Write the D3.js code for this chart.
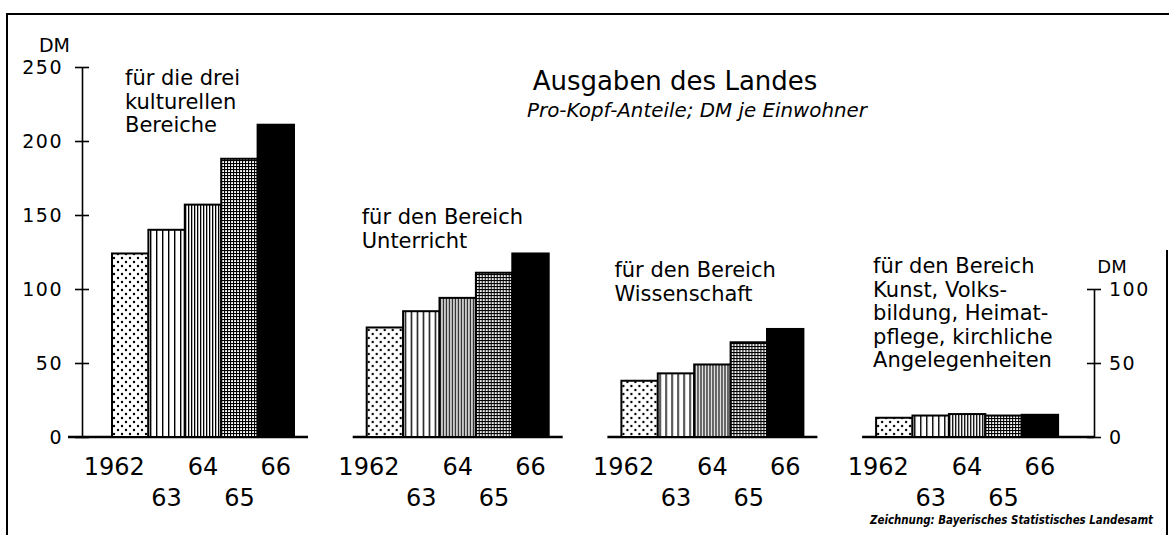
<!DOCTYPE html>
<html>
<head>
<meta charset="utf-8">
<script src="https://cdn.jsdelivr.net/npm/d3@7"></script>
<style>
  body { margin: 0; background: #fff; }
  svg { display: block; }
  text { font-family: "DejaVu Sans", sans-serif; fill: #000; }
</style>
</head>
<body>
<script>
// Data (DM per inhabitant)
const years = ["1962", "1963", "1964", "1965", "1966"];
const yearTicks = ["1962", "63", "64", "65", "66"];
const kulturGesamt = [124, 140, 157, 188, 211];
const unterricht = [74, 85, 94, 111, 124];
const wissenschaft = [38, 43, 49, 64, 73];
const kunst = [13, 14.5, 15.5, 14.5, 15];
const groupLabels = [
  ["für die drei", "kulturellen", "Bereiche"],
  ["für den Bereich", "Unterricht"],
  ["für den Bereich", "Wissenschaft"],
  ["für den Bereich", "Kunst, Volks-", "bildung, Heimat-", "pflege, kirchliche", "Angelegenheiten"]
];
const leftTicks = [0, 50, 100, 150, 200, 250];
const rightTicks = [0, 50, 100];

const series = [kulturGesamt, unterricht, wissenschaft, kunst];

// Canvas
const width = 1169, height = 535;
const svg = d3.select("body").append("svg")
  .attr("width", width)
  .attr("height", height);

// Patterns for the years
const defs = svg.append("defs");
let p = defs.append("pattern").attr("id", "pat0").attr("patternUnits", "userSpaceOnUse")
  .attr("width", 8).attr("height", 8);
p.append("rect").attr("width", 8).attr("height", 8).attr("fill", "#fff");
p.append("circle").attr("cx", 2).attr("cy", 2).attr("r", 1.2).attr("fill", "#000");
p.append("circle").attr("cx", 6).attr("cy", 6).attr("r", 1.2).attr("fill", "#000");

p = defs.append("pattern").attr("id", "pat1").attr("patternUnits", "userSpaceOnUse")
  .attr("width", 6).attr("height", 6);
p.append("rect").attr("width", 6).attr("height", 6).attr("fill", "#fff");
p.append("rect").attr("x", 2).attr("width", 1.4).attr("height", 6).attr("fill", "#000");

p = defs.append("pattern").attr("id", "pat2").attr("patternUnits", "userSpaceOnUse")
  .attr("width", 3).attr("height", 6);
p.append("rect").attr("width", 3).attr("height", 6).attr("fill", "#fff");
p.append("rect").attr("x", 1).attr("width", 1.3).attr("height", 6).attr("fill", "#000");

p = defs.append("pattern").attr("id", "pat3").attr("patternUnits", "userSpaceOnUse")
  .attr("width", 3).attr("height", 3);
p.append("rect").attr("width", 3).attr("height", 3).attr("fill", "#fff");
p.append("rect").attr("x", 1).attr("width", 1.1).attr("height", 3).attr("fill", "#000");
p.append("rect").attr("y", 1).attr("width", 3).attr("height", 1.1).attr("fill", "#000");

const fills = ["url(#pat0)", "url(#pat1)", "url(#pat2)", "url(#pat3)", "#000"];

// Scales
const y = d3.scaleLinear().domain([0, 250]).range([437, 67]);
const yRight = d3.scaleLinear().domain([0, 100]).range([y(0), y(100)]);
const gx = d3.scaleBand().domain(d3.range(series.length)).range([112, 112 + 4 * 254.7]);
const bx = d3.scaleBand().domain(years).range([0, 182]);
const groupW = bx.range()[1];

const axisLeftX = 82, axisRightX = 1094;

// Frame
svg.append("path")
  .attr("d", `M7,535 V14 H1169`)
  .attr("fill", "none").attr("stroke", "#000").attr("stroke-width", 2);
svg.append("line")
  .attr("x1", 1167).attr("x2", 1167).attr("y1", 250).attr("y2", 535)
  .attr("stroke", "#000").attr("stroke-width", 2);

// Left axis
const la = svg.append("g")
  .attr("transform", `translate(${axisLeftX},0)`)
  .call(d3.axisLeft(y).tickValues(leftTicks).tickSize(7).tickSizeOuter(0).tickPadding(12));
la.select(".domain").attr("stroke-width", 1.6);
la.selectAll(".tick line").attr("x2", 7).attr("x1", -7).attr("stroke-width", 1.6);
la.selectAll(".tick text")
  .style("font-family", "DejaVu Sans").style("font-size", "19px")
  .style("letter-spacing", "1.5px").attr("dy", "0.36em");
svg.append("text").attr("x", 70).attr("y", 52).attr("text-anchor", "end")
  .style("font-size", "19px").text("DM");

// Right axis (0 - 100)
const ra = svg.append("g")
  .attr("transform", `translate(${axisRightX},0)`)
  .call(d3.axisRight(yRight).tickValues(rightTicks).tickSize(7).tickSizeOuter(0).tickPadding(8));
ra.select(".domain").attr("stroke-width", 1.6);
ra.selectAll(".tick line").attr("x1", -7).attr("x2", 7).attr("stroke-width", 1.6);
ra.selectAll(".tick text")
  .style("font-family", "DejaVu Sans").style("font-size", "19px")
  .style("letter-spacing", "1.5px").attr("dy", "0.36em");
svg.append("text").attr("x", 1112).attr("y", 273).attr("text-anchor", "middle")
  .style("font-size", "18px").text("DM");

// Title
svg.append("text").attr("x", 675).attr("y", 90).attr("text-anchor", "middle")
  .style("font-size", "26px").text("Ausgaben des Landes");
svg.append("text").attr("x", 697).attr("y", 117).attr("text-anchor", "middle")
  .attr("textLength", 340).attr("lengthAdjust", "spacingAndGlyphs")
  .style("font-size", "19px").style("font-style", "italic")
  .text("Pro-Kopf-Anteile; DM je Einwohner");

// Group label placement (offset from group start, first baseline)
const labelPos = [[13, 85], [-5, 224], [-7, 277], [-3, 273]];

series.forEach((vals, gi) => {
  const g = svg.append("g").attr("transform", `translate(${gx(gi)},0)`);

  // baseline
  const x1 = gi === 0 ? axisLeftX - 14 - gx(gi) : -14;
  const x2 = gi === series.length - 1 ? axisRightX - gx(gi) : groupW + 14;
  g.append("line").attr("x1", x1).attr("x2", x2)
    .attr("y1", y(0)).attr("y2", y(0))
    .attr("stroke", "#000").attr("stroke-width", 2.5);

  // bars
  g.selectAll("rect.bar").data(vals).join("rect")
    .attr("class", "bar")
    .attr("x", (d, i) => bx(years[i]))
    .attr("y", d => y(d))
    .attr("width", bx.bandwidth())
    .attr("height", d => y(0) - y(d))
    .attr("fill", (d, i) => fills[i])
    .attr("stroke", "#000").attr("stroke-width", 2);

  // year labels
  g.selectAll("text.yr").data(yearTicks).join("text")
    .attr("class", "yr")
    .attr("x", (d, i) => bx(years[i]) + bx.bandwidth() / 2 + (i === 0 ? -16 : 0))
    .attr("y", (d, i) => i % 2 === 1 ? 506 : 475)
    .attr("text-anchor", "middle")
    .style("font-size", "24px")
    .text(d => d);

  // group label
  const t = g.append("text")
    .attr("x", labelPos[gi][0]).attr("y", labelPos[gi][1])
    .style("font-size", "21px");
  t.selectAll("tspan").data(groupLabels[gi]).join("tspan")
    .attr("x", labelPos[gi][0])
    .attr("dy", (d, i) => i === 0 ? 0 : 23.5)
    .text(d => d);
});

// Footer
svg.append("text").attr("x", 1153).attr("y", 524).attr("text-anchor", "end")
  .attr("textLength", 283).attr("lengthAdjust", "spacingAndGlyphs")
  .style("font-family", "DejaVu Sans Condensed, DejaVu Sans")
  .style("font-size", "12px").style("font-style", "italic").style("font-weight", "bold")
  .text("Zeichnung: Bayerisches Statistisches Landesamt");
</script>
</body>
</html>
